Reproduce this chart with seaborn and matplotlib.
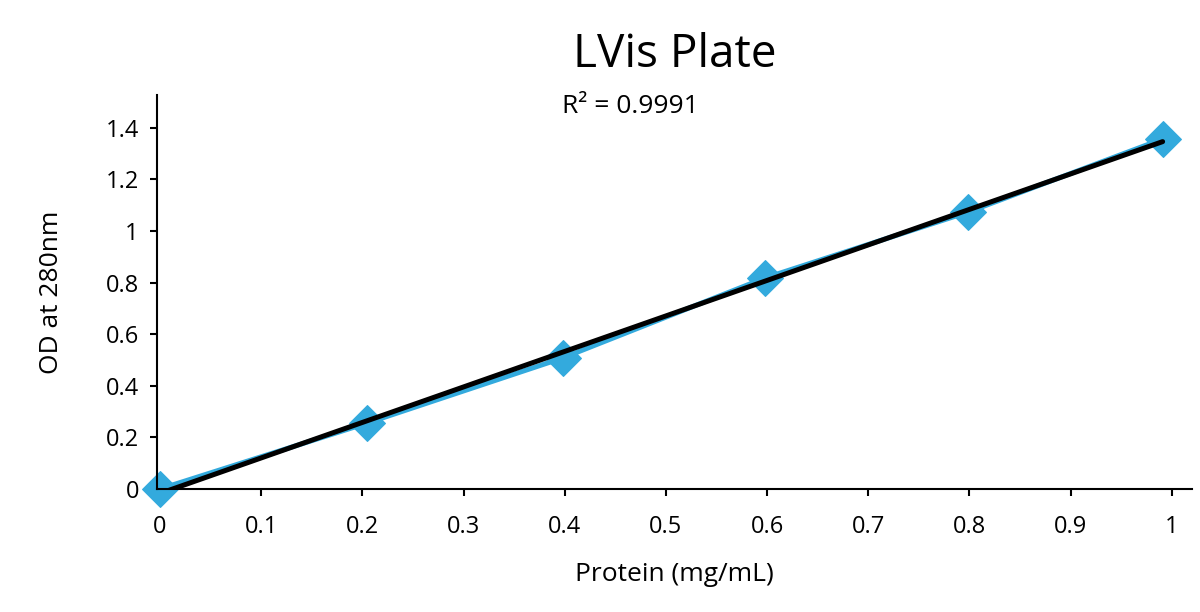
import matplotlib

matplotlib.use("Agg")

import matplotlib.pyplot as plt
import pandas as pd
import seaborn as sns
from matplotlib.ticker import FuncFormatter, MultipleLocator

# values
protein = [0.0, 0.205, 0.398, 0.598, 0.799, 0.991]
od280 = [0.0, 0.256, 0.508, 0.818, 1.074, 1.357]
r2_label = "R² = 0.9991"

BLUE = "#33aadd"
FONT = ["Open Sans", "DejaVu Sans"]


def fmt(v, pos):
    return f"{v:g}"


def main():
    sns.set_style("ticks")
    plt.rcParams["font.family"] = FONT
    plt.rcParams["text.color"] = "black"
    plt.rcParams["axes.labelcolor"] = "black"

    df = pd.DataFrame({"protein": protein, "od": od280})

    fig = plt.figure(figsize=(12, 6.12), dpi=100)
    ax = fig.add_axes([0.1308, 0.201, 0.8625, 0.644])

    sns.lineplot(
        data=df,
        x="protein",
        y="od",
        color=BLUE,
        lw=3.6,
        marker="D",
        markersize=18,
        mec=BLUE,
        ax=ax,
        zorder=2,
        clip_on=False,
    )
    sns.regplot(
        data=df,
        x="protein",
        y="od",
        scatter=False,
        ci=None,
        truncate=True,
        color="black",
        line_kws={"lw": 3.6, "zorder": 3},
        ax=ax,
    )

    ax.set_xlim(-0.003, 1.02)
    ax.set_ylim(0, 1.528)
    ax.xaxis.set_major_locator(MultipleLocator(0.1))
    ax.yaxis.set_major_locator(MultipleLocator(0.2))
    ax.xaxis.set_major_formatter(FuncFormatter(fmt))
    ax.yaxis.set_major_formatter(FuncFormatter(fmt))

    for side in ["top", "right"]:
        ax.spines[side].set_visible(False)
    for side in ["left", "bottom"]:
        ax.spines[side].set_linewidth(1.5)
        ax.spines[side].set_color("black")
    ax.tick_params(
        direction="out", length=5, width=1.5, labelsize=17, pad=8, colors="black"
    )
    ax.tick_params(axis="x", pad=14)

    ax.set_xlabel("Protein (mg/mL)", fontsize=19, labelpad=16)
    ax.set_ylabel("OD at 280nm", fontsize=19, labelpad=30)
    ax.set_title("LVis Plate", fontsize=33, pad=20)
    ax.text(0.457, 0.97, r2_label, transform=ax.transAxes, ha="center",
            va="center", fontsize=19)

    fig.savefig("out.png", dpi=100)


main()
